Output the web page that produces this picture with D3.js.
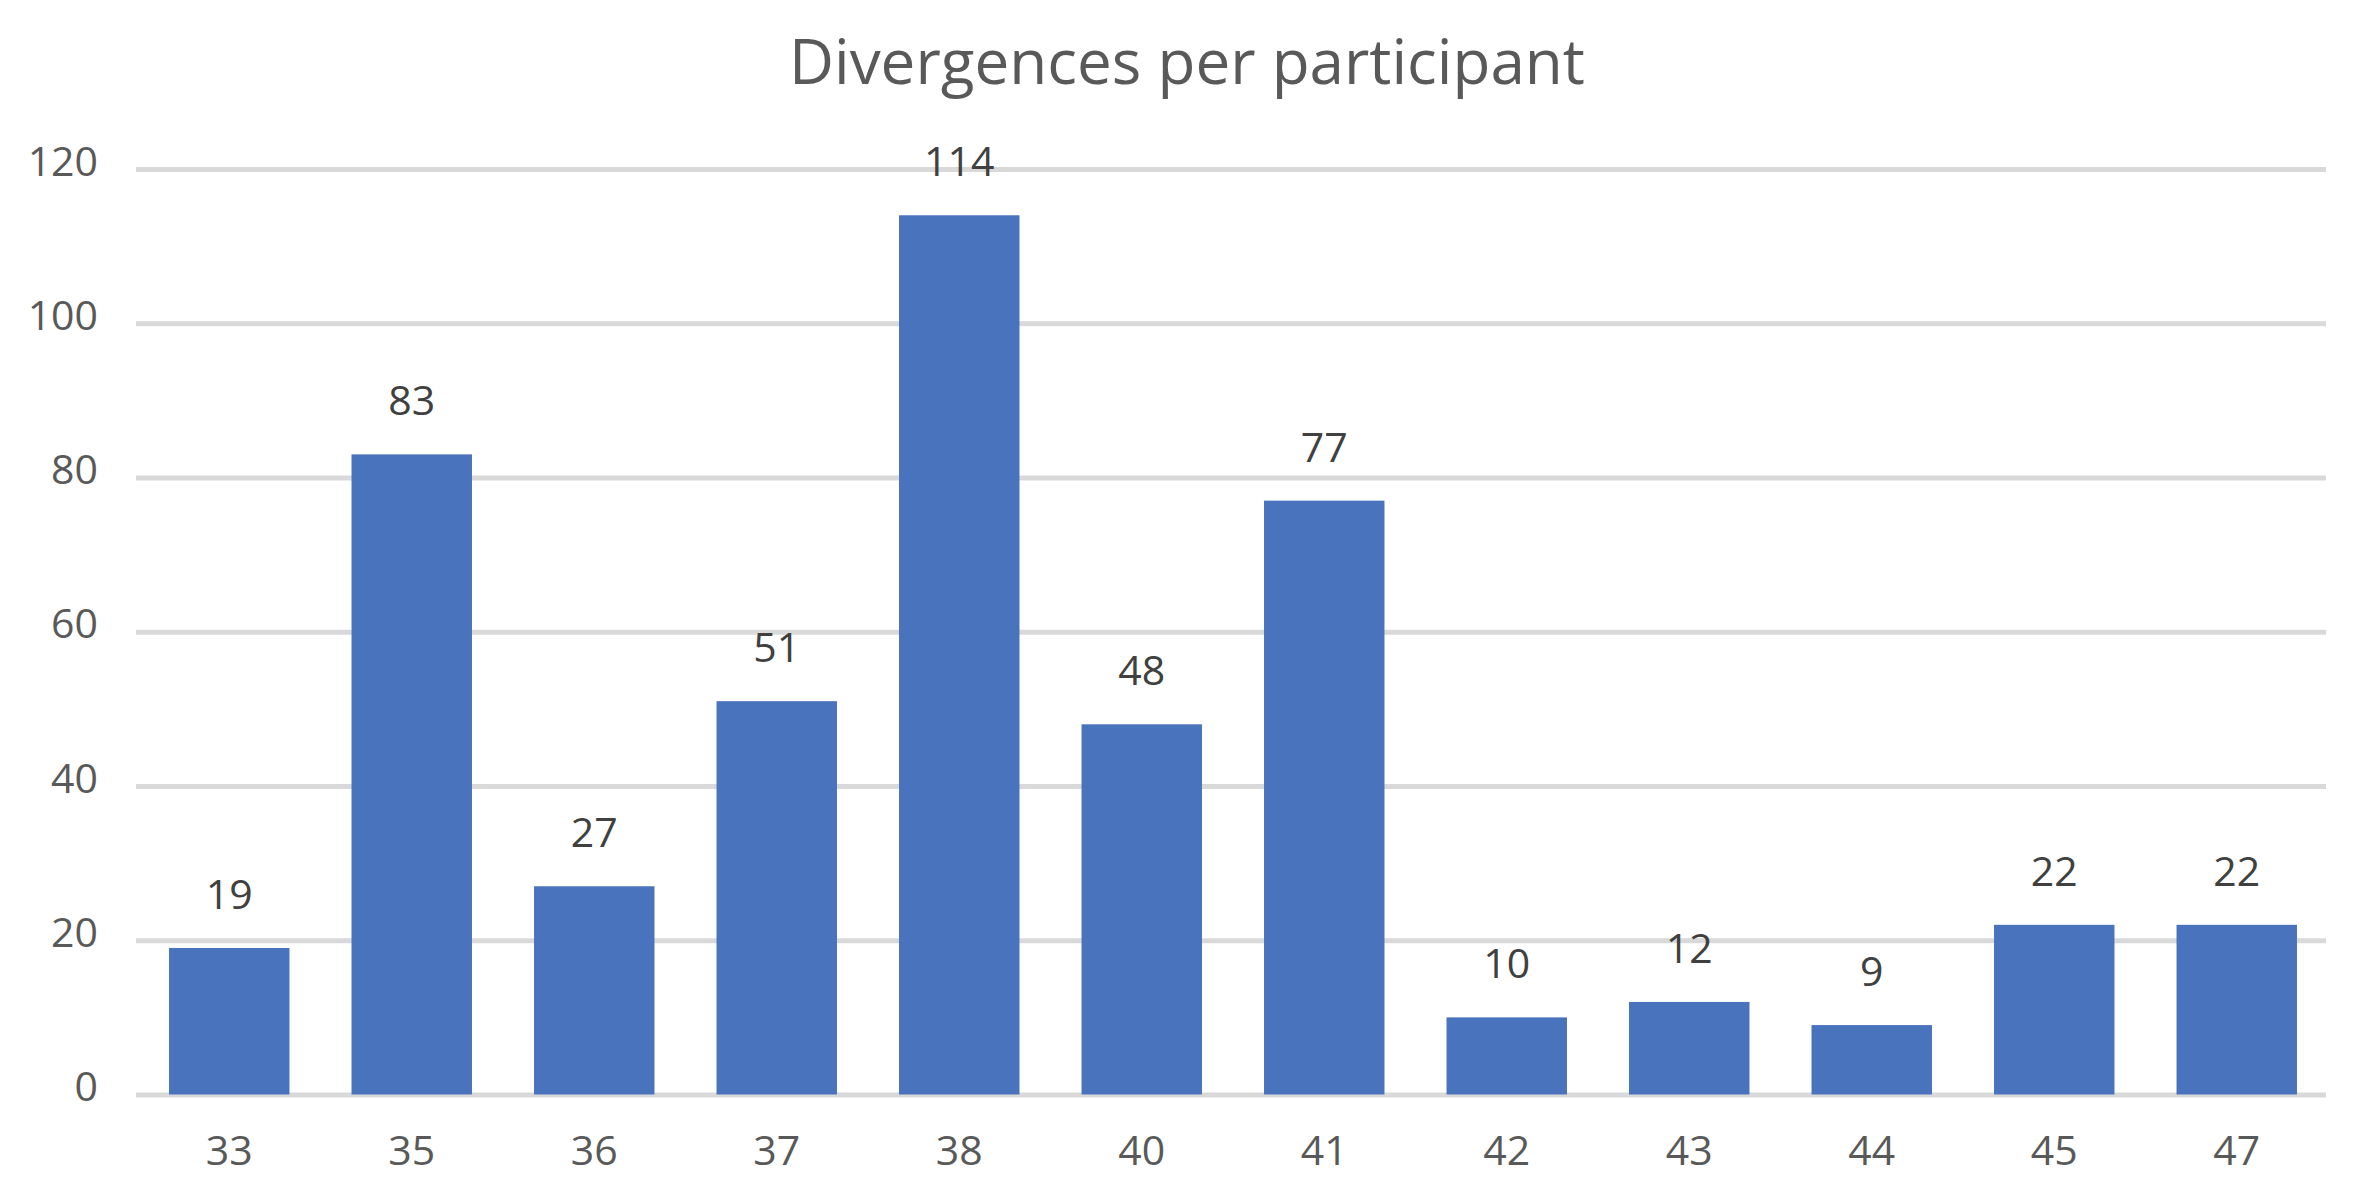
<!DOCTYPE html>
<html><head><meta charset="utf-8">
<script src="https://cdn.jsdelivr.net/npm/d3@7"></script>
<style>html,body{margin:0;padding:0;background:#fff;} svg{display:block;}</style>
</head><body>
<svg id="chart" width="2360" height="1193"></svg>
<script>
const categories = ["33","35","36","37","38","40","41","42","43","44","45","47"];
const values = [19,83,27,51,114,48,77,10,12,9,22,22];
const yTicks = [0,20,40,60,80,100,120];
const title = "Divergences per participant";

const W = 2360, H = 1193;
const gridLeft = 136, gridRight = 2326;
const plotTop = 169, plotBottom = 1094.5;
const svg = d3.select("#chart");
const font = "'Open Sans', sans-serif";

const x = d3.scaleBand().domain(categories).range([138, 2328]).paddingInner(0.34).paddingOuter(0.17);
const y = d3.scaleLinear().domain([0,120]).range([plotBottom, plotTop]);

svg.append("text").attr("x", 1187).attr("y", 84).attr("text-anchor","middle")
  .attr("font-family", font).attr("font-size", 62).attr("fill","#595959").text(title);

const yAxis = d3.axisLeft(y).tickValues(yTicks).tickSize(-(gridRight - gridLeft)).tickPadding(38);
const gy = svg.append("g").attr("transform", `translate(${gridLeft},0)`).call(yAxis);
gy.select(".domain").remove();
gy.selectAll(".tick line").attr("stroke","#d9d9d9").attr("stroke-width",5);
gy.selectAll(".tick text").attr("font-family", font).attr("font-size", 41).attr("fill","#595959").attr("dy", 6);

svg.append("g").selectAll("rect").data(values).join("rect")
  .attr("x", (d,i) => x(categories[i])).attr("width", x.bandwidth())
  .attr("y", d => y(d)).attr("height", d => y(0) - y(d)).attr("fill", "#4A73BD");

svg.append("g").selectAll("text").data(values).join("text")
  .attr("x", (d,i) => x(categories[i]) + x.bandwidth()/2).attr("y", d => y(d) - 39)
  .attr("text-anchor","middle").attr("font-family", font).attr("font-size", 41).attr("fill","#404040")
  .text(d => d);

const xAxis = d3.axisBottom(x).tickSize(0).tickPadding(41.5);
const gx = svg.append("g").attr("transform", `translate(0,${y(0)})`).call(xAxis);
gx.select(".domain").remove();
gx.selectAll(".tick text").attr("font-family", font).attr("font-size", 41).attr("fill","#595959");
</script>
</body></html>
